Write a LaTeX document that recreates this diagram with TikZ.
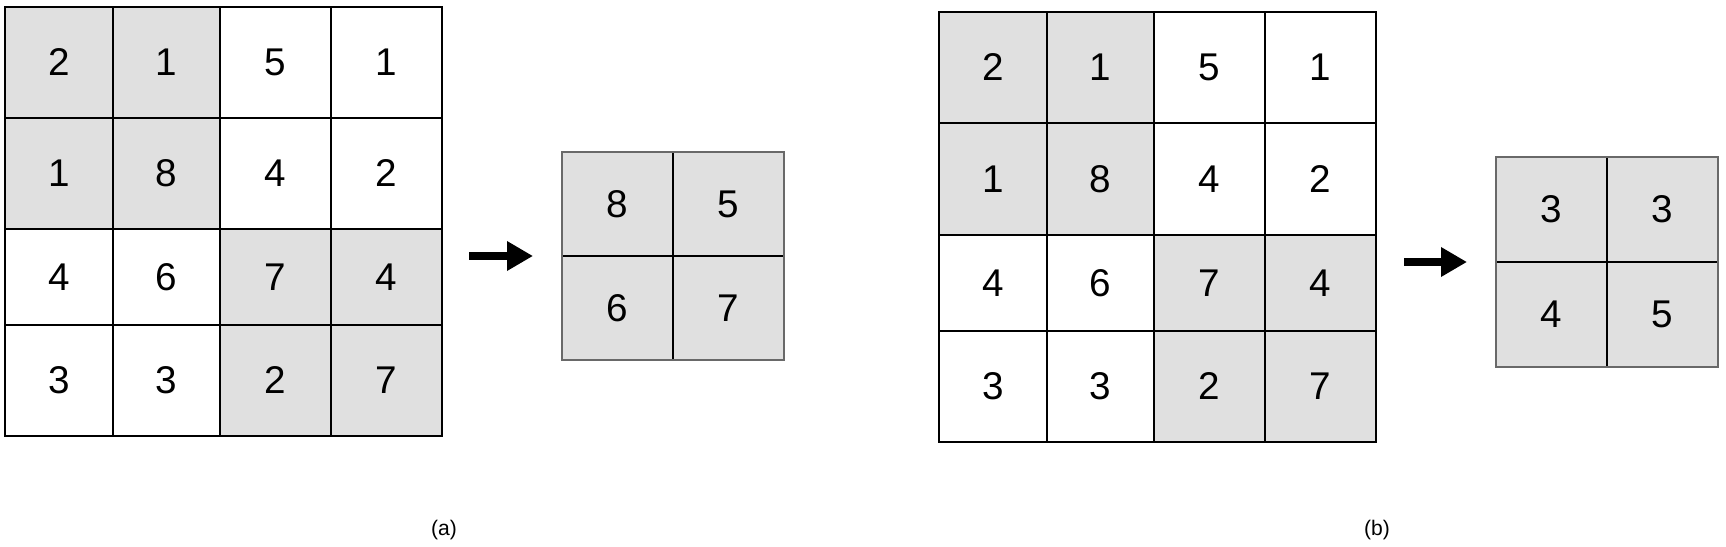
\documentclass[tikz,border=0pt]{standalone}
\usepackage{fontspec}
\setmainfont{Liberation Sans}
\usetikzlibrary{arrows.meta}
\definecolor{cellgray}{RGB}{224,224,224}
\definecolor{edgegray}{RGB}{105,105,105}

\begin{document}
\begin{tikzpicture}[x=0.02cm, y=-0.02cm,
  gridline/.style={line width=1.3pt},
  num/.style={font=\fontsize{22}{26}\selectfont, inner sep=0pt},
  subcap/.style={font=\fontsize{12}{14}\selectfont, inner sep=0pt},
  fatarrow/.style={line width=4.3pt, -{Triangle[length=0.52cm, width=0.56cm]}}]
\useasboundingbox (0,0) rectangle (1726,547);
% (a) input grid
\fill[cellgray] (5,7) rectangle (220,229);
\fill[cellgray] (220,229) rectangle (442,436);
\foreach \x in {113,220,331} \draw[gridline] (\x,7)--(\x,436);
\foreach \y in {118,229,325} \draw[gridline] (5,\y)--(442,\y);
\draw[gridline] (5,7) rectangle (442,436);
\foreach \y/\p/\q/\r/\s [count=\i] in {62.5/2/1/5/1, 173.5/1/8/4/2, 277/4/6/7/4, 380.5/3/3/2/7} {
  \node[num] (a\i1) at (59,\y) {\p};
  \node[num] (a\i2) at (166.5,\y) {\q};
  \node[num] (a\i3) at (275.5,\y) {\r};
  \node[num] (a\i4) at (386.5,\y) {\s};
}
% (a) pooled grid
\fill[cellgray] (562,152) rectangle (784,360);
\draw[gridline] (673,152)--(673,360);
\draw[gridline] (562,256)--(784,256);
\draw[gridline, edgegray] (562,152) rectangle (784,360);
\node[num] (pa11) at (617.5,204) {8};
\node[num] (pa12) at (728.5,204) {5};
\node[num] (pa21) at (617.5,308) {6};
\node[num] (pa22) at (728.5,308) {7};
\coordinate (sa) at (469,256);
\coordinate (ea) at (533,256);
\draw[fatarrow] (sa)--(ea);
\node[subcap] (capa) at (444,530) {(a)};
% (b) input grid
\fill[cellgray] (939,12) rectangle (1154,235);
\fill[cellgray] (1154,235) rectangle (1376,442);
\foreach \x in {1047,1154,1265} \draw[gridline] (\x,12)--(\x,442);
\foreach \y in {123,235,331} \draw[gridline] (939,\y)--(1376,\y);
\draw[gridline] (939,12) rectangle (1376,442);
\foreach \y/\p/\q/\r/\s [count=\i] in {67.5/2/1/5/1, 179/1/8/4/2, 283/4/6/7/4, 386.5/3/3/2/7} {
  \node[num] (b\i1) at (993,\y) {\p};
  \node[num] (b\i2) at (1100.5,\y) {\q};
  \node[num] (b\i3) at (1209.5,\y) {\r};
  \node[num] (b\i4) at (1320.5,\y) {\s};
}
% (b) pooled grid
\fill[cellgray] (1496,157) rectangle (1718,367);
\draw[gridline] (1607,157)--(1607,367);
\draw[gridline] (1496,262)--(1718,262);
\draw[gridline, edgegray] (1496,157) rectangle (1718,367);
\node[num] (pb11) at (1551.5,209.5) {3};
\node[num] (pb12) at (1662.5,209.5) {3};
\node[num] (pb21) at (1551.5,314.5) {4};
\node[num] (pb22) at (1662.5,314.5) {5};
\coordinate (sb) at (1404,262);
\coordinate (eb) at (1467,262);
\draw[fatarrow] (sb)--(eb);
\node[subcap] (capb) at (1377,530) {(b)};
\end{tikzpicture}
\end{document}
